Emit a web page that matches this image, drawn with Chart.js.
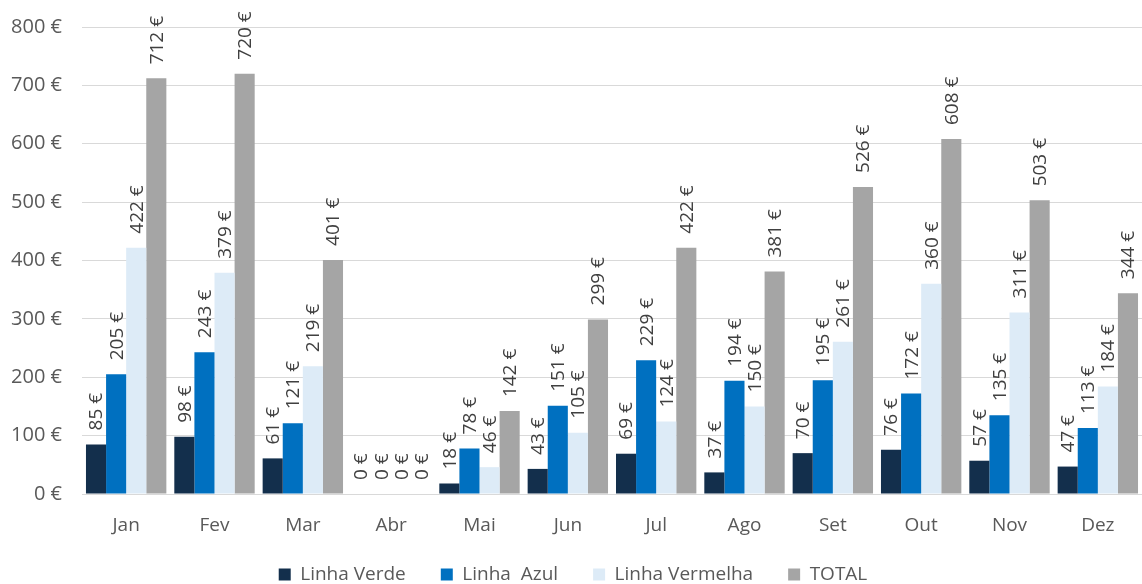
<!DOCTYPE html>
<html>
<head>
<meta charset="utf-8">
<script src="https://cdn.jsdelivr.net/npm/chart.js@4"></script>
<style>
  html, body { margin: 0; padding: 0; background: #fff; }
  #wrap { width: 1142px; height: 584px; }
</style>
</head>
<body>
<div id="wrap"><canvas id="grafico"></canvas></div>
<script>
const meses = ["Jan", "Fev", "Mar", "Abr", "Mai", "Jun", "Jul", "Ago", "Set", "Out", "Nov", "Dez"];
const linhaVerde = [85, 98, 61, 0, 18, 43, 69, 37, 70, 76, 57, 47];
const linhaAzul = [205, 243, 121, 0, 78, 151, 229, 194, 195, 172, 135, 113];
const linhaVermelha = [422, 379, 219, 0, 46, 105, 124, 150, 261, 360, 311, 184];
const total = [712, 720, 401, 0, 142, 299, 422, 381, 526, 608, 503, 344];

const fonte = "'Open Sans', 'Noto Sans', sans-serif";
const cinza = "#595959";

// valores por cima das barras, rodados 90 graus
const rotulos = {
  id: "rotulos",
  afterDatasetsDraw(chart) {
    const ctx = chart.ctx;
    ctx.save();
    ctx.font = "19px " + fonte;
    ctx.fillStyle = "#404040";
    ctx.textAlign = "left";
    ctx.textBaseline = "middle";
    chart.data.datasets.forEach((ds, i) => {
      chart.getDatasetMeta(i).data.forEach((bar, j) => {
        ctx.save();
        ctx.translate(bar.x + 1, bar.y - 14);
        ctx.rotate(-Math.PI / 2);
        ctx.fillText(ds.data[j] + " €", 0, 0);
        ctx.restore();
      });
    });
    ctx.restore();
  }
};

// legenda mais baixa que o normal, e os meses sem corte
const legendaBaixa = {
  id: "legendaBaixa",
  beforeInit(chart) {
    const lg = chart.legend;
    const fit = lg.fit.bind(lg);
    lg.fit = function () {
      fit();
      this.height = 54;
    };
  },
  afterLayout(chart) {
    chart.scales.x.bottom += 14;
  }
};

new Chart(document.getElementById("grafico"), {
  type: "bar",
  data: {
    labels: meses,
    datasets: [
      { label: "Linha Verde", data: linhaVerde, backgroundColor: "#132F4C" },
      { label: "Linha  Azul", data: linhaAzul, backgroundColor: "#0070C0" },
      { label: "Linha Vermelha", data: linhaVermelha, backgroundColor: "#DDEBF7" },
      { label: "TOTAL", data: total, backgroundColor: "#A5A5A5" }
    ]
  },
  options: {
    responsive: true,
    maintainAspectRatio: false,
    animation: false,
    layout: { padding: { left: 4, right: 0, top: 27, bottom: 0 } },
    datasets: { bar: { categoryPercentage: 0.91, barPercentage: 1 } },
    plugins: {
      legend: {
        position: "bottom",
        labels: {
          font: { family: fonte, size: 19 },
          color: cinza,
          boxWidth: 12,
          boxHeight: 12,
          padding: 35
        }
      },
      tooltip: { enabled: false }
    },
    scales: {
      x: {
        grid: { display: false },
        border: { color: "#D9D9D9", width: 1 },
        ticks: { font: { family: fonte, size: 19 }, color: cinza, padding: 12 },
        afterFit: s => { s.height = 36; }
      },
      y: {
        min: 0,
        max: 800,
        grid: { color: "#D9D9D9", drawTicks: false },
        border: { display: false },
        ticks: {
          stepSize: 100,
          font: { family: fonte, size: 20 },
          color: cinza,
          padding: 20,
          callback: v => v + " €"
        },
        afterFit: s => {
          s.width = 78;
          s.paddingTop = 0;
          s.paddingBottom = 0;
        }
      }
    }
  },
  plugins: [rotulos, legendaBaixa]
});
</script>
</body>
</html>
